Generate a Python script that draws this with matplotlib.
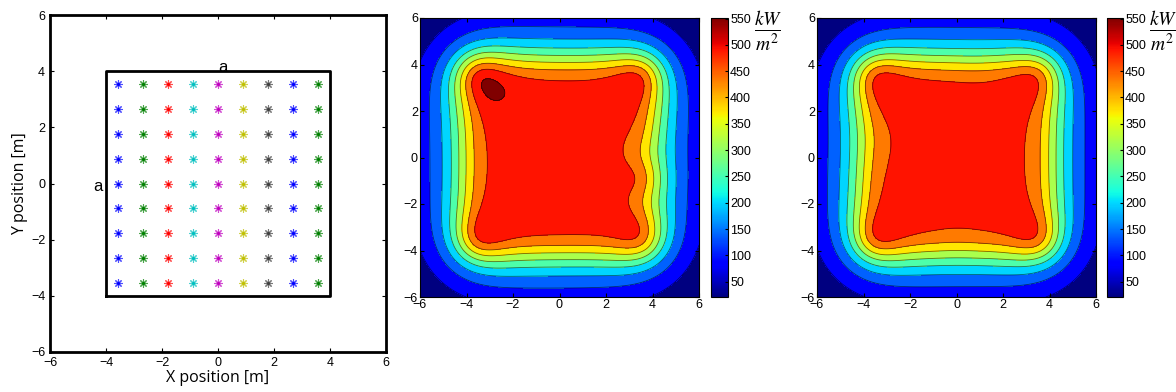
import numpy as np
import matplotlib
matplotlib.use("Agg")
import matplotlib.pyplot as plt
from matplotlib.colors import Normalize
from matplotlib.cm import ScalarMappable

# heater positions (m), 9 x 9 grid inside the 8 m square
src_x = [-3.56, -2.67, -1.78, -0.89, 0.0, 0.89, 1.78, 2.67, 3.56]
src_y = [3.56, 2.67, 1.78, 0.89, 0.0, -0.89, -1.78, -2.67, -3.56]
col_colors = ['b', 'g', 'r', 'c', 'm', 'y', 'k', 'b', 'g']
matlab_cols = {'b': (0, 0, 1), 'g': (0, 0.5, 0), 'r': (1, 0, 0), 'c': (0, 0.75, 0.75),
               'm': (0.75, 0, 0.75), 'y': (0.75, 0.75, 0), 'k': (0.25, 0.25, 0.25)}

# relative heater power, rows top -> bottom, columns left -> right
power_b = [
    [6.37, 2.0, 2.0, 2.0, 2.0, 2.0, 2.0, 2.0, 5.6],
    [1.85, 1.25, 1.0, 1.0, 1.0, 1.0, 1.0, 1.0, 2.0],
    [1.85, 1.0, 1.0, 1.0, 1.0, 1.0, 1.0, 1.0, 2.0],
    [1.85, 1.0, 1.0, 1.0, 1.0, 1.0, 1.0, 1.0, 2.0],
    [1.85, 1.0, 1.0, 1.0, 1.0, 1.0, 1.0, 1.0, 0.1],
    [1.85, 1.0, 1.0, 1.0, 1.0, 1.0, 1.0, 1.0, 4.3],
    [1.85, 1.0, 1.0, 1.0, 1.0, 1.0, 1.0, 1.0, 0.1],
    [1.85, 1.0, 1.0, 1.0, 1.0, 1.0, 1.0, 1.0, 2.0],
    [5.77, 2.05, 2.05, 2.05, 2.05, 2.05, 2.05, 2.05, 5.3],
]
power_c = [
    [5.6, 2.05, 2.05, 2.05, 2.05, 1.8, 2.05, 2.05, 5.4],
    [1.94, 1.0, 1.0, 1.0, 1.0, 1.0, 1.0, 1.0, 1.8],
    [1.85, 1.0, 1.0, 1.0, 1.0, 1.0, 1.0, 1.0, 1.8],
    [1.4, 1.0, 1.0, 1.0, 1.0, 1.0, 1.0, 1.0, 1.8],
    [1.8, 1.0, 1.0, 1.0, 1.0, 1.0, 1.0, 1.0, 1.8],
    [1.94, 1.0, 1.0, 1.0, 1.0, 1.0, 1.0, 1.0, 1.8],
    [1.94, 1.0, 1.0, 1.0, 1.0, 1.0, 1.0, 1.0, 1.8],
    [1.94, 1.0, 1.0, 1.0, 1.0, 1.0, 1.0, 1.0, 1.8],
    [5.6, 1.95, 1.95, 1.95, 1.7, 1.95, 1.95, 1.95, 5.4],
]

# contour levels (kW/m^2) and colorbar range
levels = [80, 139, 198, 257, 315, 374, 433, 492, 551]
cb_min, cb_max = 21, 551
cb_ticks = [50, 100, 150, 200, 250, 300, 350, 400, 450, 500, 550]

height = 1.5      # m, heater height above the plane
gain = 38.81      # kW/m^2 per unit power
offset = -13.3

g = np.linspace(-6, 6, 401)
X, Y = np.meshgrid(g, g)


def flux(power):
    F = np.full(X.shape, offset)
    for i, y in enumerate(src_y):
        for j, x in enumerate(src_x):
            r2 = (X - x) ** 2 + (Y - y) ** 2
            F += gain * power[i][j] * (1 + r2 / height ** 2) ** -1.5
    return F


plt.rcParams['font.family'] = ['Liberation Sans', 'DejaVu Sans']
plt.rcParams['mathtext.fontset'] = 'stix'

fig = plt.figure(figsize=(11.76, 3.92), dpi=100)

# ---- layout of the heaters
ax = fig.add_axes([50 / 1176, 40 / 392, 336 / 1176, 337 / 392])
for j, x in enumerate(src_x):
    c = matlab_cols[col_colors[j]]
    ax.plot([x] * len(src_y), src_y, linestyle='none', marker=(8, 2, 0), ms=6,
            mew=0.8, color=c, alpha=0.7)
    ax.plot([x] * len(src_y), src_y, linestyle='none', marker='.', ms=2.5, color=c)
ax.plot([-4, 4, 4, -4, -4], [-4, -4, 4, 4, -4], color='k', lw=2)
ax.text(0.18, 4.12, 'a', fontsize=12, ha='center', va='center')
ax.text(-4.29, -0.1, 'a', fontsize=12, ha='center', va='center')
ax.set_xlim(-6, 6)
ax.set_ylim(-6, 6)
ax.set_xticks(range(-6, 7, 2))
ax.set_yticks(range(-6, 7, 2))
ax.tick_params(direction='in', top=True, right=True, labelsize=9, length=3)
for s in ax.spines.values():
    s.set_linewidth(2)
ax.set_xlabel('X position [m]', fontsize=11.5, family='Open Sans', labelpad=1)
ax.set_ylabel('Y position [m]', fontsize=11.5, family='Open Sans', labelpad=2)

# ---- flux maps
jet = plt.get_cmap('jet')
band_colors = [jet(i / 9) for i in range(10)]
norm = Normalize(cb_min, cb_max)

panels = [(power_b, 420, 711, 17), (power_c, 817, 1107, 16)]
for power, x0, cx0, cw in panels:
    F = flux(power)
    ax = fig.add_axes([x0 / 1176, 95 / 392, 279 / 1176, 279 / 392])
    ax.contourf(X, Y, F, levels=[-1e3] + levels + [1e4], colors=band_colors)
    ax.contour(X, Y, F, levels=levels, colors='k', linewidths=0.6, alpha=0.55)
    ax.set_xlim(-6, 6)
    ax.set_ylim(-6, 6)
    ax.set_xticks(range(-6, 7, 2))
    ax.set_yticks(range(-6, 7, 2))
    ax.tick_params(direction='in', top=True, right=True, labelsize=9, length=3,
                   pad=1.5)

    cax = fig.add_axes([cx0 / 1176, 95 / 392, cw / 1176, 279 / 392])
    cb = fig.colorbar(ScalarMappable(norm=norm, cmap=jet), cax=cax)
    cb.set_ticks(cb_ticks)
    cb.outline.set_linewidth(0.8)
    cax.tick_params(labelsize=9, direction='in', length=2, pad=1.5)
    fig.text((cx0 + cw + 26) / 1176, 1 - 32 / 392, r'$\frac{kW}{m^2}$',
             fontsize=20, ha='left', va='center')

fig.savefig('out.png', dpi=100)
